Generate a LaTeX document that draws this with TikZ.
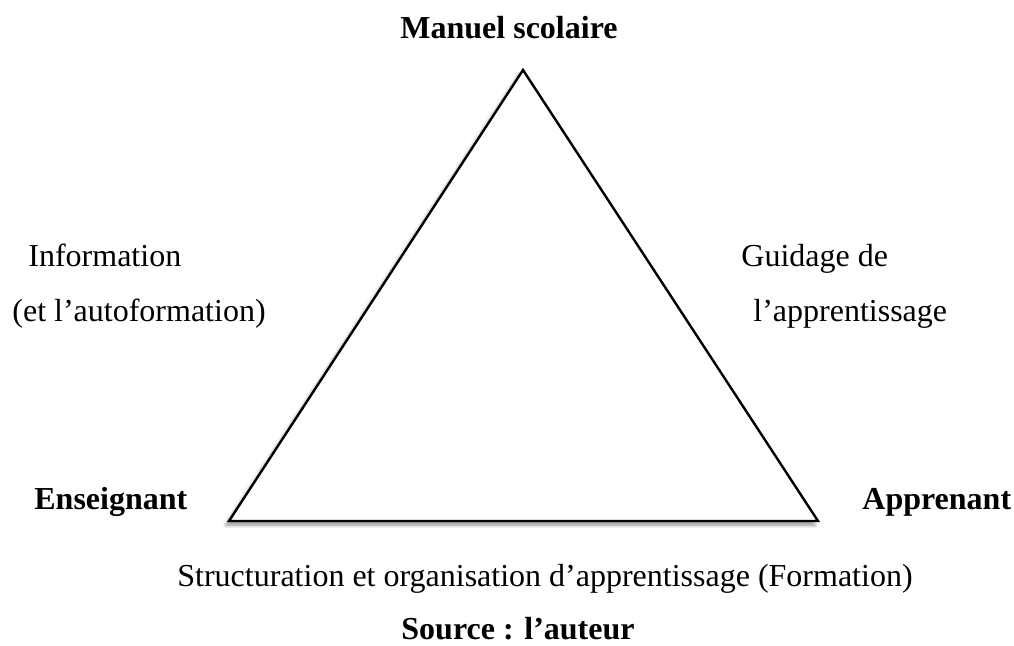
\documentclass[tikz,border=0pt]{standalone}
\usepackage{fontspec}
\setmainfont{Liberation Serif}
\usetikzlibrary{shadows.blur}
\tikzset{
  lbl/.style = {inner sep=0pt, font=\fontsize{16}{19}\selectfont},
  corner/.style = {lbl, font=\fontsize{16}{19}\selectfont\bfseries},
  side/.style = {line width=1.2pt, line join=miter, fill=white,
    blur shadow={shadow xshift=-1.5pt, shadow yshift=-2pt, shadow blur steps=6, shadow opacity=45}},
}
\begin{document}
\begin{tikzpicture}[x=0.5pt, y=-0.5pt]
    \useasboundingbox (0,0) rectangle (1014,646);
    \coordinate (manuelpt) at (523,70);
    \coordinate (enspt) at (229,521);
    \coordinate (apppt) at (818,521);
    \draw [side] (manuelpt) -- (apppt) -- (enspt) -- cycle;
    \node [corner, anchor=base] (manuel) at (509,39) {Manuel scolaire};
    \node [corner, anchor=base west] (ens) at (34,510) {Enseignant};
    \node [corner, anchor=base west] (app) at (862,510) {Apprenant};
    \node [lbl, anchor=base west] (info) at (28,267) {Information};
    \node [lbl, anchor=base west] (autoform) at (12,322) {(et l’autoformation)};
    \node [lbl, anchor=base west] (guid) at (741,267) {Guidage de};
    \node [lbl, anchor=base west] (appr) at (753,322) {l’apprentissage};
    \node [lbl, anchor=base west] (struct) at (177,587) {Structuration et organisation d’apprentissage (Formation)};
    \node [corner, anchor=base] (source) at (518,640) {Source : l’auteur};
  \end{tikzpicture}
\end{document}
